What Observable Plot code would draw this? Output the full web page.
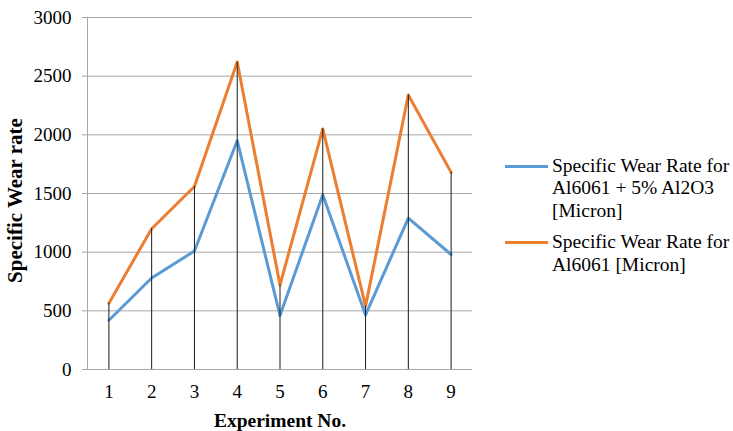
<!DOCTYPE html>
<html><head><meta charset="utf-8">
<script src="https://cdn.jsdelivr.net/npm/d3@7"></script>
<script src="https://cdn.jsdelivr.net/npm/@observablehq/plot@0.6"></script>
<style>
body{margin:0;background:#fff;}
#wrap{position:relative;width:733px;height:431px;font-family:"Liberation Serif","Times New Roman",serif;color:#000;}
#legend{position:absolute;left:505px;top:155px;font-family:"Liberation Serif",serif;font-size:19.5px;line-height:22.3px;white-space:nowrap;}
.item{display:flex;align-items:flex-start;margin-bottom:9.4px;}
.sw{width:43px;height:3px;margin-top:10px;margin-right:4px;flex:none;}
</style></head>
<body><div id="wrap"><div id="legend"></div></div>
<script>
const experiments = [1,2,3,4,5,6,7,8,9];
const composite = [420,780,1010,1950,460,1490,465,1290,980];
const base = [565,1200,1560,2620,720,2050,540,2340,1680];
const yTicks = [0,500,1000,1500,2000,2500,3000];
const seriesNames = ["Specific Wear Rate for<br>Al6061 + 5% Al2O3<br>[Micron]", "Specific Wear Rate for<br>Al6061 [Micron]"];
const seriesColors = ["#5b9bd5", "#ed7d31"];

const data = experiments.map((e,i)=>({e, composite: composite[i], base: base[i]}));
const FF = '"Liberation Serif","Times New Roman",serif';

const plot = Plot.plot({
  width: 733, height: 431,
  marginLeft: 87, marginRight: 261, marginTop: 17, marginBottom: 62,
  style: {fontFamily: FF, fontSize: "19px", color: "black", background: "transparent", overflow: "visible"},
  x: {type: "linear", domain: [0.5, 9.5]},
  y: {domain: [0, 3000]},
  marks: [
    Plot.gridY(yTicks, {stroke: "#a6a6a6", strokeOpacity: 1}),
    Plot.axisY(yTicks, {tickSize: 5, tickPadding: 11, stroke: "#a6a6a6", fill: "black", label: null, fontFamily: FF, fontSize: 19, tickFormat: d => String(d)}),
    Plot.ruleX([0.5], {y1: 0, y2: 3000, stroke: "#a6a6a6"}),
    Plot.axisX(experiments, {tickSize: 0, tickPadding: 15, fill: "black", label: null, fontFamily: FF, fontSize: 19, tickFormat: d => String(d)}),
    Plot.line(data, {x: "e", y: "composite", stroke: seriesColors[0], strokeWidth: 3}),
    Plot.line(data, {x: "e", y: "base", stroke: seriesColors[1], strokeWidth: 3}),
    Plot.ruleX(data, {x: "e", y1: 0, y2: "base", stroke: "#1a1a1a", strokeWidth: 1}),
    Plot.text(["Specific Wear rate"], {frameAnchor: "left", rotate: -90, dx: -72, dy: 7, fontWeight: "bold", fontFamily: FF, fontSize: 21, textAnchor: "middle", lineAnchor: "middle"}),
    Plot.text(["Experiment No."], {frameAnchor: "bottom", dy: 51, fontWeight: "bold", fontFamily: FF, fontSize: 19.5, textAnchor: "middle", lineAnchor: "middle"})
  ]
});
const wrap = document.getElementById("wrap");
plot.style.position = "absolute"; plot.style.left = "0"; plot.style.top = "0";
wrap.insertBefore(plot, wrap.firstChild);

const legend = document.getElementById("legend");
seriesNames.forEach((n,i)=>{
  const it = document.createElement("div"); it.className = "item";
  const sw = document.createElement("div"); sw.className = "sw"; sw.style.background = seriesColors[i];
  const tx = document.createElement("div"); tx.innerHTML = n;
  it.appendChild(sw); it.appendChild(tx); legend.appendChild(it);
});
</script></body></html>
